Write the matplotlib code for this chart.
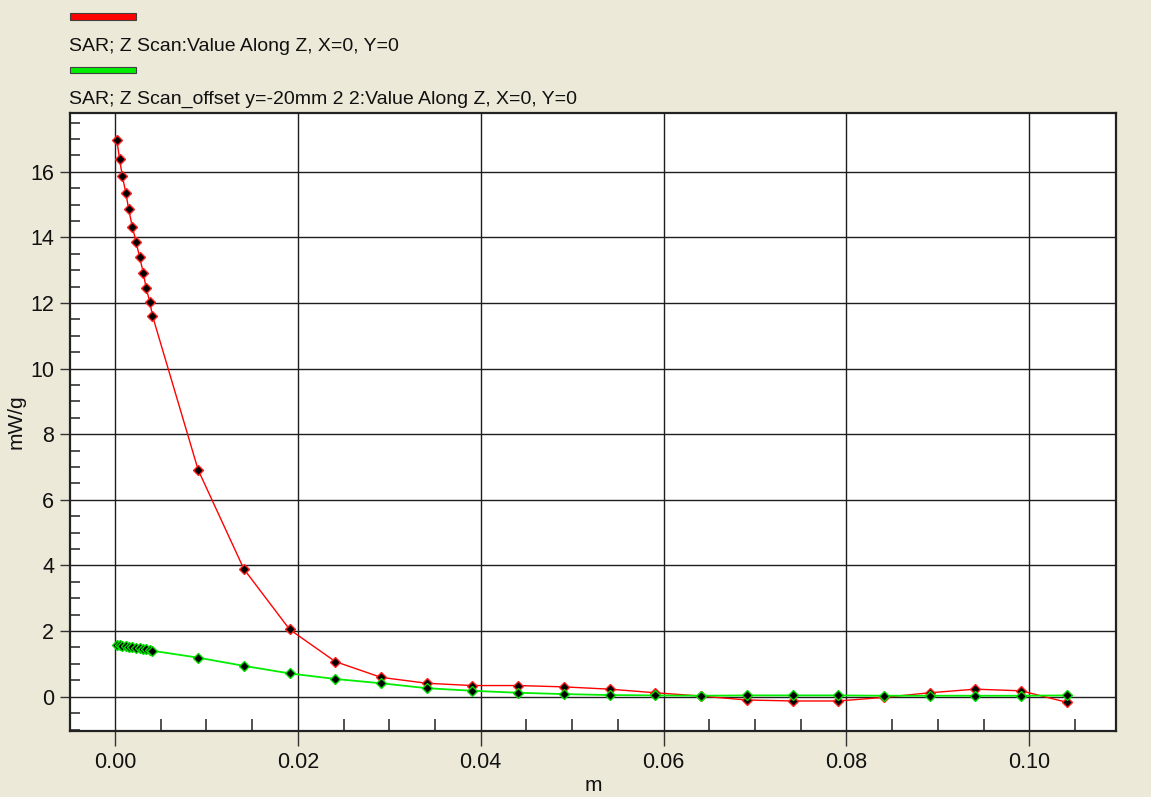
import matplotlib
matplotlib.use("Agg")
import matplotlib.pyplot as plt
from matplotlib import font_manager
from matplotlib.patches import Rectangle
from matplotlib.ticker import MultipleLocator, FormatStrFormatter

# ---------------- data ----------------
z_fine = [0.0002, 0.0005, 0.0008, 0.0012, 0.0015, 0.0019, 0.0023, 0.0027,
          0.0031, 0.0034, 0.0038, 0.0041]
z_coarse = [0.0091, 0.0141, 0.0191, 0.0241, 0.0291, 0.0341, 0.0391, 0.0441,
            0.0491, 0.0541, 0.0591, 0.0641, 0.0691, 0.0741, 0.0791, 0.0841,
            0.0891, 0.0941, 0.0991, 0.1041]
z_values = z_fine + z_coarse

sar_center = [16.97, 16.39, 15.87, 15.34, 14.85, 14.32, 13.87, 13.39, 12.92,
              12.46, 12.04, 11.61,
              6.91, 3.89, 2.05, 1.07, 0.59, 0.41, 0.34, 0.34, 0.30, 0.23,
              0.12, 0.02, -0.10, -0.13, -0.13, -0.02, 0.12, 0.23, 0.18, -0.17]
sar_offset = [1.58, 1.57, 1.55, 1.54, 1.52, 1.51, 1.49, 1.48, 1.46, 1.45,
              1.43, 1.40,
              1.19, 0.94, 0.71, 0.54, 0.41, 0.26, 0.18, 0.12, 0.08, 0.05,
              0.04, 0.03, 0.04, 0.04, 0.04, 0.03, 0.03, 0.03, 0.03, 0.04]

series_labels = ["SAR; Z Scan:Value Along Z, X=0, Y=0",
                 "SAR; Z Scan_offset y=-20mm 2 2:Value Along Z, X=0, Y=0"]
x_label = "m"
y_label = "mW/g"

# ---------------- style ----------------
BG = "#ECE9D8"
names = {f.name for f in font_manager.fontManager.ttflist}
if "Liberation Sans Narrow" in names:
    narrow_font, legend_size, label_size = "Liberation Sans Narrow", 16, 17
else:
    narrow_font, legend_size, label_size = "Liberation Sans", 14, 15
plt.rcParams["font.family"] = ["Liberation Sans", "DejaVu Sans"]

W, H = 1151, 797
fig = plt.figure(figsize=(W / 100, H / 100), dpi=100, facecolor=BG)
ax = fig.add_axes([70 / W, 1 - 731 / H, (1116 - 70) / W, (731 - 113) / H])
ax.set_facecolor("white")

ax.set_xlim(-0.00492, 0.10948)
ax.set_ylim(-1.045, 17.79)

ax.xaxis.set_major_locator(MultipleLocator(0.02))
ax.xaxis.set_minor_locator(MultipleLocator(0.005))
ax.yaxis.set_major_locator(MultipleLocator(2))
ax.yaxis.set_minor_locator(MultipleLocator(0.5))
ax.xaxis.set_major_formatter(FormatStrFormatter("%.2f"))
ax.yaxis.set_major_formatter(FormatStrFormatter("%d"))

ax.grid(True, which="major", color="#1e1e1e", linewidth=1.0)
ax.set_axisbelow(True)

ax.tick_params(axis="x", which="major", direction="out", length=11, width=1.0,
               color="#333333", pad=4, labelsize=15.5, labelcolor="#111111")
ax.tick_params(axis="x", which="minor", direction="in", length=8.5, width=1.1,
               color="#222222")
ax.tick_params(axis="y", which="major", direction="out", length=7.5, width=1.0,
               color="#333333", pad=4, labelsize=15.5, labelcolor="#111111")
ax.tick_params(axis="y", which="minor", direction="in", length=7.5, width=1.1,
               color="#222222")

for s in ax.spines.values():
    s.set_color("#222222")
    s.set_linewidth(1.6)

ax.plot(z_values, sar_center, color="#ff0000", linewidth=1.0, marker="D",
        markersize=4.6, markerfacecolor="black", markeredgecolor="#ff2020",
        markeredgewidth=1.0, zorder=3)
ax.plot(z_values, sar_offset, color="#00ee00", linewidth=1.3, marker="D",
        markersize=4.6, markerfacecolor="black", markeredgecolor="#00dd00",
        markeredgewidth=1.0, zorder=4)

ax.set_xlabel(x_label, fontsize=label_size, family=[narrow_font, "DejaVu Sans"],
              labelpad=2, color="#111111")
ax.set_ylabel(y_label, fontsize=label_size, family=[narrow_font, "DejaVu Sans"],
              labelpad=3, color="#111111")

# legend (top, stacked bars + text)
colors = ["#ff0000", "#00ee00"]
bar_tops = [13.3, 66.7]
text_baselines = [51, 104]
for lab, col, bt, tb in zip(series_labels, colors, bar_tops, text_baselines):
    fig.patches.append(Rectangle((69.5 / W, 1 - (bt + 6.5) / H), 66 / W, 6.5 / H,
                                 transform=fig.transFigure, facecolor=col,
                                 edgecolor="#404040", linewidth=0.8))
    fig.text(69 / W, 1 - tb / H, lab, fontsize=legend_size,
             family=[narrow_font, "DejaVu Sans"], va="baseline", ha="left",
             color="#111111")

fig.savefig("out.png", dpi=100, facecolor=BG)
